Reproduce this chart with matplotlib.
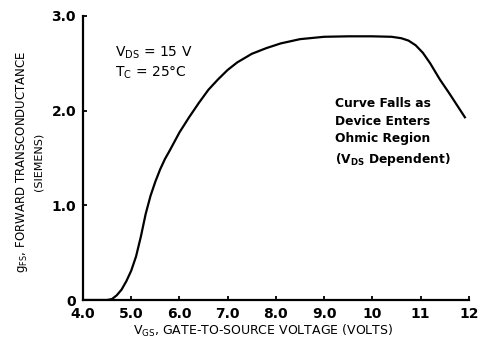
import matplotlib.pyplot as plt

# gate-to-source voltage (V) and forward transconductance (S)
vgs = [4.0, 4.5, 4.6, 4.7, 4.8, 4.9, 5.0, 5.1, 5.2, 5.3, 5.4, 5.5, 5.6, 5.7,
       5.8, 6.0, 6.2, 6.4, 6.6, 6.8, 7.0, 7.2, 7.5, 7.8, 8.1, 8.5, 9.0, 9.5,
       10.0, 10.4, 10.6, 10.75, 10.9, 11.05, 11.2, 11.4, 11.6, 11.92]
gfs = [0.0, 0.0, 0.01, 0.05, 0.11, 0.2, 0.31, 0.46, 0.67, 0.91, 1.1, 1.25,
       1.38, 1.49, 1.58, 1.77, 1.93, 2.08, 2.22, 2.33, 2.43, 2.51, 2.6, 2.66,
       2.71, 2.755, 2.78, 2.785, 2.785, 2.78, 2.765, 2.74, 2.69, 2.61, 2.5,
       2.33, 2.18, 1.93]

x_ticks = [4, 5, 6, 7, 8, 9, 10, 11, 12]
x_labels = ["4.0", "5.0", "6.0", "7.0", "8.0", "9.0", "10", "11", "12"]
y_ticks = [0, 1, 2, 3]
y_labels = ["0", "1.0", "2.0", "3.0"]

fig = plt.figure(figsize=(4.84, 3.47), dpi=100)
ax = fig.add_axes([0.1715, 0.1354, 0.797, 0.8186])

ax.plot(vgs, gfs, color="black", lw=1.6, solid_joinstyle="round")
ax.set_xlim(4, 12)
ax.set_ylim(0, 3)

for s in ["top", "right"]:
    ax.spines[s].set_visible(False)
for s in ["left", "bottom"]:
    ax.spines[s].set_linewidth(1.6)

ax.set_xticks(x_ticks)
ax.set_xticklabels(x_labels, fontsize=10, fontweight="bold")
ax.set_yticks(y_ticks)
ax.set_yticklabels(y_labels, fontsize=10, fontweight="bold")
ax.tick_params(direction="in", length=3, width=1.3, pad=5)

ax.text(4.67, 2.61, r"V$_{\mathrm{DS}}$ = 15 V", fontsize=10, va="center")
ax.text(4.67, 2.40, r"T$_{\mathrm{C}}$ = 25°C", fontsize=10, va="center")

ax.text(9.22, 1.77, "Curve Falls as\nDevice Enters\nOhmic Region\n"
        r"(V$_{\mathbf{DS}}$ Dependent)",
        fontsize=8.8, fontweight="bold", linespacing=1.45, va="center")

fig.text(0.045, 0.535, r"g$_{\mathrm{FS}}$, FORWARD TRANSCONDUCTANCE",
         rotation=90, fontsize=8.5, ha="center", va="center")
fig.text(0.079, 0.533, "(SIEMENS)", rotation=90, fontsize=8,
         ha="center", va="center")
fig.text(0.544, 0.046, r"V$_{\mathrm{GS}}$, GATE-TO-SOURCE VOLTAGE (VOLTS)",
         fontsize=9, ha="center", va="center")

fig.savefig("out.png", dpi=100)
